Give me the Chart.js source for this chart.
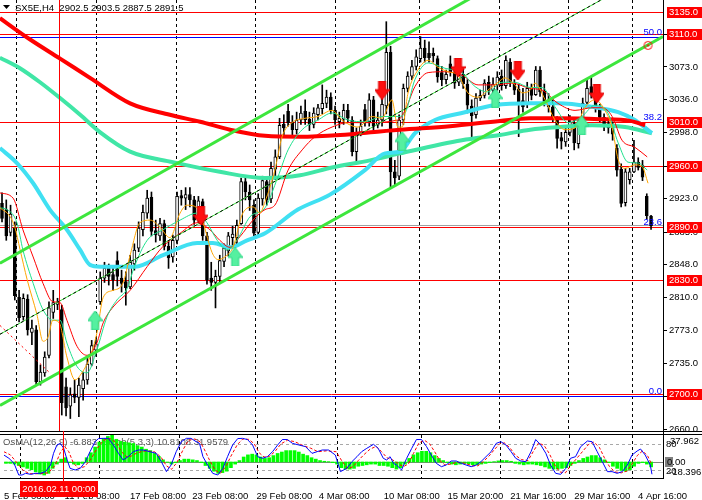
<!DOCTYPE html>
<html>
<head>
<meta charset="utf-8">
<script src="https://cdn.jsdelivr.net/npm/chart.js@4.4.1/dist/chart.umd.min.js"></script>
<style>
  html, body { margin: 0; padding: 0; background: #fff; }
  #wrap { position: relative; width: 702px; height: 500px; overflow: hidden; }
  #main { position: absolute; left: 0; top: 0; }
  #osc { position: absolute; left: 0; top: 431px; }
</style>
</head>
<body>
<div id="wrap">
  <canvas id="main" width="702" height="431"></canvas>
  <canvas id="osc" width="702" height="69"></canvas>
</div>
<script>
// SX5E H4 candles, bar index 0..152
const opens = [
  2917,2910,2884,2889,2810,2788,2808,2770,2773,2714,
  2724,2744,2793,2802,2796,2708,2686,2700,2696,2706,
  2716,2734,2750,2805,2832,2843,2836,2852,2832,2828,
  2822,2848,2866,2887,2906,2924,2886,2880,2894,2868,
  2856,2875,2926,2923,2927,2921,2898,2919,2880,2832,
  2827,2834,2851,2863,2878,2878,2894,2942,2930,2915,
  2884,2922,2942,2922,2956,2970,3007,3022,3009,3001,
  3012,3022,3013,3007,3018,3025,3031,3038,3023,3010,
  3013,3023,3012,2976,2998,3024,3010,3035,3006,3012,
  3028,3089,2953,2948,3012,3048,3062,3073,3082,3094,
  3088,3088,3082,3066,3058,3076,3067,3055,3064,3053,
  3028,3018,3037,3040,3055,3046,3052,3062,3051,3078,
  3054,3047,3034,3030,3048,3041,3069,3045,3033,3027,
  3012,2992,2987,2998,3008,2985,3010,3032,3050,3040,
  3026,3015,3008,3003,2980,2956,2918,2944,2953,2964,
  2960,2925,2902.5
];
const highs = [
  2929,2921,2915,2896,2818,2814,2813,2784,2778,2733,
  2748,2805,2818,2809,2801,2718,2707,2716,2718,2725,
  2741,2761,2764,2839,2850,2848,2846,2862,2841,2839,
  2858,2871,2896,2915,2932,2930,2898,2900,2898,2875,
  2881,2930,2932,2935,2935,2925,2925,2922,2884,2850,
  2841,2858,2871,2884,2891,2898,2946,2947,2938,2921,
  2928,2948,2946,2964,2978,3014,3018,3030,3017,3021,
  3028,3035,3021,3026,3030,3052,3046,3043,3028,3021,
  3030,3030,3016,3003,3012,3030,3042,3039,3021,3037,
  3124,3096,2966,3018,3053,3067,3080,3092,3107,3103,
  3101,3094,3085,3073,3069,3085,3071,3069,3071,3058,
  3035,3042,3046,3058,3062,3060,3067,3069,3085,3082,
  3058,3053,3048,3055,3053,3073,3073,3053,3042,3035,
  3016,2998,3003,3017,3012,3014,3037,3058,3061,3043,
  3030,3019,3014,3010,2984,2962,2957,2957,2989,2969,
  2966,2928,2903.5
];
const lows = [
  2896,2875,2880,2807,2782,2784,2767,2756,2710,2710,
  2720,2741,2786,2796,2676,2675,2672,2690,2674,2693,
  2711,2732,2743,2802,2827,2824,2818,2823,2816,2801,
  2820,2841,2862,2880,2900,2880,2873,2875,2864,2843,
  2850,2871,2915,2910,2913,2893,2895,2875,2825,2818,
  2798,2827,2845,2857,2866,2871,2893,2921,2909,2877,
  2880,2915,2915,2918,2944,2968,2995,3005,2994,2996,
  3007,3007,3000,3003,3012,3019,3026,3019,3007,3003,
  3007,3010,2971,2964,2994,3005,3005,3000,3003,3005,
  3019,2936,2937,2944,3007,3044,3058,3069,3078,3078,
  3078,3078,3055,3051,3053,3062,3048,3051,3048,3020,
  2991,3014,3034,3037,3041,3040,3046,3046,3048,3050,
  3041,2993,3021,3026,3035,3040,3039,3028,3021,3010,
  2980,2979,2982,2994,2978,2980,3007,3030,3037,3021,
  3010,3000,2997,2989,2948,2913,2914,2939,2952,2955,
  2943,2899,2887.5
];
const closes = [
  2900,2880,2905,2812,2787,2809,2773,2775,2714,2725,
  2742,2798,2804,2805,2690,2684,2699,2696,2710,2716,
  2734,2755,2757,2832,2843,2834,2830,2834,2826,2821,
  2850,2864,2889,2907,2923,2885,2881,2894,2868,2855,
  2875,2925,2923,2927,2921,2898,2920,2880,2830,2827,
  2834,2852,2866,2880,2882,2892,2942,2930,2921,2883,
  2923,2943,2921,2957,2970,3006,3003,3009,3001,3012,
  3020,3012,3007,3020,3026,3031,3038,3023,3012,3014,
  3023,3014,2976,2998,3005,3010,3035,3005,3012,3030,
  3089,2953,2946,3012,3048,3062,3073,3084,3094,3083,
  3083,3085,3061,3058,3064,3067,3054,3063,3053,3029,
  3017,3037,3040,3054,3046,3053,3061,3051,3080,3055,
  3046,3030,3027,3048,3040,3069,3044,3032,3027,3015,
  2991,2988,2998,3010,2986,3010,3031,3048,3043,3027,
  3015,3007,3003,2996,2955,2917,2953,2953,2964,2958,
  2947,2903,2891.5
];

// moving averages: [bar index, price]
const maRedThick = [[-0.5,3128],[6.5,3104],[13.6,3082],[20.6,3060],[30,3031],[39.3,3018],[46.4,3010],[53.4,3001],[61.6,2994],[69.8,2993],[79.2,2995],[88.5,2999],[93.2,3001],[104.9,3005],[116.6,3011],[123.7,3014],[130.7,3014],[140,3013],[147.1,3011],[150.6,3006]];
const maMint = [[-0.5,3083],[4.2,3071],[8.9,3055],[13.6,3037],[18.3,3018],[23,2998],[30,2976],[40,2964],[51,2953],[61.6,2946],[69.8,2949],[77.3,2958],[86.2,2966],[93.2,2974],[107.7,2989],[116.6,2995],[123.7,3001],[130.7,3004],[138.2,3006],[145.9,3004],[152.2,2997]];
const maCyan = [[-0.5,2980],[3.5,2963],[7.3,2940],[11.2,2910],[15.2,2887],[18.3,2864],[20.6,2847],[23,2845],[31.2,2845],[37.7,2858],[45.7,2872],[49.4,2872],[53.4,2867],[57.4,2875],[61.6,2883],[69.3,2910],[76.8,2927],[85,2955],[89.7,2974],[93.2,2976],[96.7,2997],[101.4,3012],[107.7,3020],[115.5,3029],[123.7,3031],[130.2,3031],[138.2,3027],[144.3,3021],[148.2,3012],[152.2,2997]];
const maRedThin = [[-0.5,2929],[2.6,2923],[4.9,2887],[7.3,2856],[9.6,2826],[11.9,2805],[13.6,2804],[15.2,2784],[17.6,2754],[19.9,2744],[22.2,2758],[23.7,2781],[26,2799],[30,2818],[34,2845],[37.7,2868],[41.7,2883],[45.7,2895],[48.7,2887],[51,2875],[53.4,2867],[55.7,2879],[58.8,2898],[61.6,2910],[63.9,2915],[67,2955],[70.3,2978],[73.3,2993],[77.3,3004],[81,3009],[85,3009],[92.7,3012],[94.4,3023],[96.7,3050],[99.8,3066],[103.7,3067],[107.7,3063],[111.5,3052],[115.5,3052],[119.4,3054],[123.7,3048],[126.5,3046],[130.2,3031],[134.2,3023],[138.2,3026],[140.5,3026],[142.9,3016],[145.2,2989],[148.2,2981],[151.1,2970]];
const maOrange = [[-0.5,2912],[1.9,2902],[3,2890],[4.2,2865],[5.9,2830],[8.2,2790],[9.6,2760],[10.8,2765],[11.9,2784],[13.4,2781],[15.2,2742],[17.1,2716],[18.7,2724],[20.6,2742],[22.2,2769],[23.7,2810],[26,2818],[28.3,2826],[30,2858],[32.3,2895],[34.7,2898],[37,2890],[39.3,2878],[41.7,2906],[43.3,2915],[45.7,2912],[47.1,2895],[49.2,2861],[50.6,2853],[52.7,2858],[54.1,2867],[56.4,2906],[58.8,2913],[60.4,2906],[61.6,2919],[63.9,2955],[65.6,2993],[67.9,3009],[71,3014],[74,3016],[77.3,3023],[79.6,3012],[83.4,3004],[86.7,3016],[89,3014],[91.3,3035],[92.7,3004],[93.7,3004],[95.1,3043],[97.4,3069],[99.8,3080],[102.1,3072],[104.5,3067],[106.8,3063],[109.1,3043],[111.5,3038],[113.8,3046],[116.2,3055],[117.8,3060],[120.1,3052],[121.8,3043],[123.7,3046],[124.8,3054],[127.2,3035],[129.5,3012],[131.9,3001],[134.2,3003],[136.5,3026],[138.9,3035],[141.2,3023],[142.9,3003],[144.3,2967],[145.9,2957],[148.2,2961],[149.9,2959],[151.3,2940]];
const maGreen = [[-0.5,2912],[1.2,2910],[3.5,2895],[4.9,2864],[7.3,2826],[9.6,2796],[11.9,2784],[13.6,2784],[15.2,2758],[17.6,2731],[19.9,2724],[22.2,2750],[24.6,2788],[26.9,2807],[29.3,2820],[31,2845],[34,2875],[37.7,2887],[41.7,2898],[45.7,2906],[48,2895],[50.4,2875],[52.7,2864],[55,2875],[58.1,2902],[61.6,2912],[64.6,2947],[67,2978],[70.3,3001],[74,3012],[77.3,3020],[81,3012],[85,3010],[89,3016],[92.7,3016],[94.4,3020],[96.7,3058],[99.8,3077],[103.7,3071],[107.7,3066],[110.8,3050],[113.8,3044],[117.1,3055],[120.1,3055],[123.7,3049],[126.5,3049],[129.5,3027],[132.6,3009],[135.8,3016],[138.9,3029],[141.9,3020],[144.3,2986],[146.6,2964],[149,2963],[151.1,2955]];

// trend channel and other drawn objects
const chanUpper = [[-0.47,2849],[154.8,3274]];
const chanLower = [[-0.47,2687],[154.8,3107]];
const chanMid = [[-0.47,2768],[154.8,3188]];
const redDashLeft = [[-0.47,2778],[11.2,2724]];
const redArrows = [[46.6,2903],[89,3046],[106.8,3072],[120.8,3068],[139.3,3042]];
const greenArrows = [[21.8,2784],[54.6,2856],[93.7,2988],[115.5,3037],[135.8,3006]];
const fiboMark = [[151.3,3097]];

const redLevels = [3135, 3110, 3010, 2960, 2890, 2830, 2700];
const fibLevels = [2697.7, 2890.4, 3009.6, 3106];
const fibLabels = ['0.0', '23.6', '38.2', '50.0'];
const bidPrice = 2891.5;
const priceTicks = [3110, 3073, 3036, 2998, 2960, 2923, 2885, 2848, 2810, 2773, 2735, 2698, 2660];

const timeTicks = [-0.47, 13.8, 29.2, 43.9, 59.0, 73.7, 89.0, 104.0, 118.8, 133.9, 148.9];
const timeLabels = ['5 Feb 08:00','11 Feb 08:00','17 Feb 08:00','23 Feb 08:00','29 Feb 08:00','4 Mar 08:00','10 Mar 08:00','15 Mar 20:00','21 Mar 16:00','29 Mar 16:00','4 Apr 16:00'];
const gridX = [3.28, 22.0, 40.75, 59.25, 78.0, 97.7, 116.4, 132.6, 147.5];
const crossX = 13.35;

// oscillator window
const osma = [
  -2,-2,-3,-5,-7,-9,-11,-14,-17,-18.4,
  -16,-9,-3,4,6,-1,-3,-4,-2,6,
  13,21,28,33,36,37.962,32,29,28,27,
  26,23,21,18,16,12,8,3,-0.5,-3,
  -1,2,4,4,3,2,-1,-5,-9,-13,
  -16,-15,-13,-8,-3,2,7,10,11,10,
  7,5,6,9,12,14,16,16,16,14,
  11,9,6,4,2,1,0.5,-1,-3,-8,
  -10,-10,-9,-6,-5,-4,-3,-3,-5,-5,
  -6,-8,-10,-8,-3,5,10,13,15,15,
  13,9,5,2,-1,-3,-4,-3,-2,-3,
  -4,-4,-3,-2,-1,0.5,1.5,2,2,1,
  -2,-3,-4,-3,-3,-4,-5,-7,-9,-10,
  -10,-9,-8,-5,-2,2,5,7,9,9,
  6,3,-1,-6,-9,-12,-13,-11,-6,-2,
  -1,-3,-6.883
];
const stochMain = [[-0.5,54.5],[0.7,47],[1.9,35.6],[3,9.1],[3.8,9.1],[4.6,12.9],[5.8,10.6],[7,12.9],[8.1,12.9],[9.3,16.7],[10.5,31.8],[11.2,58.3],[12,77.3],[12.8,81],[13.6,69.7],[14.4,43.2],[15.1,24.2],[16.3,20.5],[17.5,24.2],[18.7,39.4],[19.8,62.1],[21,84.8],[21.8,91.9],[23,92.4],[24.1,92.4],[25.3,77.3],[26.5,58.3],[27.6,43.2],[28.8,50.8],[30,62.1],[31.2,65.9],[32.3,65.9],[33.9,62.1],[35.4,58.3],[36.6,39.4],[37.8,16.7],[38.9,31.8],[40.1,62.1],[41.3,84.8],[42.5,92.4],[43.6,92.4],[44.8,84.8],[45.6,81],[46.4,50.8],[47.5,31.8],[48.7,12.9],[49.9,9.1],[51.1,24.2],[52.2,50.8],[53.4,77.3],[54.6,91.9],[55.7,92.4],[56.9,89.7],[58.1,77.3],[59.3,50.8],[60.4,47],[61.6,50.8],[62.8,62.1],[64,77.3],[65.1,89.7],[66.3,89.7],[67.5,81],[69,77.3],[70.6,73.5],[72.1,58.3],[73.3,62.1],[74.5,65.9],[76,65.9],[77.6,54.5],[78.8,16.7],[80.3,24.2],[81.5,39.4],[82.7,50.8],[83.8,62.1],[85,69.7],[86.6,78.8],[87.7,69.7],[88.9,47],[89.7,43.2],[90.5,50.8],[91.3,35.6],[92,31.8],[93.2,20.5],[94.4,47],[95.6,69.7],[96.7,89.7],[97.9,89.7],[99.1,73.5],[100.2,54.5],[101.4,35.6],[102.6,28],[103.7,31.8],[104.9,40.9],[106.1,40.9],[107.3,35.6],[108.4,31.8],[109.6,28],[110.8,31.8],[111.9,39.4],[113.1,50.8],[114.3,62.1],[115.5,81],[116.6,84.8],[117.8,77.3],[119,62.1],[120.1,47],[121.3,40.9],[122.5,39.4],[123.7,62.1],[124.8,89.7],[126,77.3],[127.2,58.3],[128.3,31.8],[129.5,12.9],[130.7,10.6],[131.9,24.2],[133,47],[134.2,50.8],[135.4,73.5],[137,86.4],[138.1,84.8],[139.3,62.1],[140.5,39.4],[141.7,16.7],[142.8,16.7],[144,12.9],[145.2,16.7],[146.4,31.8],[147.5,54.5],[148.7,63.6],[149.5,68.2],[150.6,54.5],[151.8,31.8],[152.2,10.8]];
const stochSignal = [[-0.5,62],[1,55],[2.5,38],[4,20],[5.5,12],[8,12],[10,14],[11.5,30],[12.8,60],[13.8,74],[14.8,62],[15.8,38],[17,24],[18.5,28],[20,45],[21.5,70],[23,88],[24.5,92],[26,82],[27.2,62],[28.5,50],[29.5,52],[31,60],[33,64],[35,62],[36.5,50],[37.8,30],[39,22],[40.3,38],[41.8,68],[43,88],[44.5,91],[45.8,84],[46.8,66],[48,42],[49.3,20],[50.5,13],[51.8,28],[53,52],[54.5,78],[55.8,91],[57.2,90],[58.5,80],[59.6,60],[60.8,50],[62.2,52],[63.5,64],[64.8,80],[66.3,88],[68,85],[70,76],[71.8,70],[73.5,62],[75.5,64],[77.8,62],[79.2,40],[80.5,24],[81.8,28],[83,42],[84.3,55],[85.8,68],[87.2,74],[88.5,62],[89.8,48],[91,44],[92.3,36],[93.6,28],[94.8,34],[96,58],[97.3,82],[98.6,88],[99.8,80],[101,62],[102.2,42],[103.4,32],[104.8,34],[106.3,38],[108,36],[109.8,30],[111.2,30],[112.5,40],[113.8,52],[115,66],[116.3,80],[117.5,82],[118.8,70],[120,54],[121.5,44],[123,42],[124.2,62],[125.5,82],[126.8,76],[128,58],[129.3,32],[130.5,16],[131.8,14],[133,30],[134.4,46],[135.8,62],[137.2,78],[138.5,84],[139.8,72],[141,48],[142.2,28],[143.5,16],[145,14],[146.3,18],[147.5,34],[148.8,54],[150,64],[151.2,52],[152.2,32]];
const stochLevels = [80, 20];

const X_MIN = -0.47, X_MAX = 154.8;
const FONT = "9.5px 'Liberation Sans', Arial, sans-serif";
Chart.defaults.font.family = "'Liberation Sans', Arial, sans-serif";
Chart.defaults.font.size = 9.5;
Chart.defaults.color = '#000';

function px(v) { return Math.round(v) + 0.5; }
function hline(ctx, x1, x2, y) { ctx.beginPath(); ctx.moveTo(x1, y); ctx.lineTo(x2, y); ctx.stroke(); }
function vline(ctx, x, y1, y2) { ctx.beginPath(); ctx.moveTo(x, y1); ctx.lineTo(x, y2); ctx.stroke(); }

function makeArrow(fill, edge, up) {
  const c = document.createElement('canvas');
  c.width = 15; c.height = 19;
  const g = c.getContext('2d');
  if (up) { g.translate(0, 19); g.scale(1, -1); }
  g.beginPath();
  g.moveTo(4, 0); g.lineTo(11, 0); g.lineTo(11, 9); g.lineTo(15, 9);
  g.lineTo(7.5, 19); g.lineTo(0, 9); g.lineTo(4, 9); g.closePath();
  g.fillStyle = fill; g.fill();
  g.strokeStyle = edge; g.lineWidth = 1; g.stroke();
  return c;
}
function makeRing() {
  const c = document.createElement('canvas');
  c.width = 11; c.height = 11;
  const g = c.getContext('2d');
  g.strokeStyle = '#ff0000'; g.lineWidth = 1;
  g.beginPath(); g.arc(5.5, 5.5, 4, 0, Math.PI * 2); g.stroke();
  g.fillStyle = '#ff0000'; g.fillRect(4.5, 4.5, 2, 2);
  return c;
}

const wickData = lows.map((l, i) => ({ x: i, y: [l, highs[i]] }));
const bodyData = opens.map((o, i) => ({ x: i, y: [o, closes[i]] }));
const bodyColors = opens.map((o, i) => closes[i] >= o ? '#ffffff' : '#000000');

function maLine(data, color, width, order) {
  return { type: 'line', data, borderColor: color, borderWidth: width, pointRadius: 0,
    fill: false, tension: 0.3, cubicInterpolationMode: 'monotone', order };
}
function straight(data, color, width, order, dash) {
  return { type: 'line', data, borderColor: color, borderWidth: width, pointRadius: 0,
    fill: false, tension: 0, borderDash: dash || [], order };
}

const mainDecor = {
  id: 'mainDecor',
  beforeDatasetsDraw(chart) {
    const { ctx, chartArea: a, scales: { x, y } } = chart;
    ctx.save();
    ctx.lineWidth = 1;
    ctx.strokeStyle = '#000';
    ctx.setLineDash([3, 3]);
    gridX.forEach(v => vline(ctx, px(x.getPixelForValue(v)), a.top, a.bottom));
    ctx.setLineDash([]);
    ctx.strokeStyle = '#0000ff';
    fibLevels.forEach(v => hline(ctx, a.left, a.right, px(y.getPixelForValue(v))));
    ctx.strokeStyle = '#a0a0a0';
    hline(ctx, a.left, a.right, px(y.getPixelForValue(bidPrice)) - 1);
    ctx.strokeStyle = '#ff0000';
    redLevels.forEach(v => hline(ctx, a.left, a.right, px(y.getPixelForValue(v))));
    ctx.restore();
  },
  afterDraw(chart) {
    const { ctx, chartArea: a, scales: { x, y } } = chart;
    ctx.save();
    ctx.lineWidth = 1;
    // crosshair
    ctx.strokeStyle = '#ff0000';
    vline(ctx, px(x.getPixelForValue(crossX)), 0, chart.height);
    // right border of price window
    ctx.strokeStyle = '#000';
    vline(ctx, a.right + 0.5, 0, chart.height);
    // fibo labels
    ctx.font = FONT;
    ctx.fillStyle = '#0000ff';
    ctx.textAlign = 'right';
    ctx.textBaseline = 'alphabetic';
    fibLevels.forEach((v, i) => ctx.fillText(fibLabels[i], a.right - 1, y.getPixelForValue(v) - 2));
    // price scale
    ctx.textAlign = 'left';
    ctx.textBaseline = 'middle';
    ctx.fillStyle = '#000';
    priceTicks.forEach(v => {
      const yy = y.getPixelForValue(v);
      hline(ctx, a.right, a.right + 4, px(yy));
      ctx.fillText(v.toFixed(1), 669, yy + 0.5);
    });
    redLevels.forEach(v => {
      const yy = y.getPixelForValue(v);
      ctx.fillStyle = '#ff0000';
      ctx.fillRect(667, Math.round(yy) - 5, 35, 11);
      ctx.fillStyle = '#ffffff';
      ctx.fillText(v.toFixed(1), 669, yy + 0.5);
    });
    // header
    ctx.fillStyle = '#000';
    ctx.beginPath(); ctx.moveTo(3, 5); ctx.lineTo(10, 5); ctx.lineTo(6.5, 9); ctx.closePath(); ctx.fill();
    ctx.fillText('SX5E,H4  2902.5 2903.5 2887.5 2891.5', 15, 8);
    ctx.restore();
  }
};

const oscDecor = {
  id: 'oscDecor',
  beforeDatasetsDraw(chart) {
    const { ctx, chartArea: a, scales } = chart;
    const x = scales.x, ys = scales.y, y2 = scales.y2;
    ctx.save();
    ctx.lineWidth = 1;
    ctx.strokeStyle = '#000';
    ctx.setLineDash([3, 3]);
    gridX.forEach(v => vline(ctx, px(x.getPixelForValue(v)), a.top, a.bottom));
    ctx.strokeStyle = '#a8a8a8';
    stochLevels.forEach(v => hline(ctx, a.left, a.right, px(ys.getPixelForValue(v))));
    ctx.setLineDash([]);
    ctx.strokeStyle = '#808080';
    hline(ctx, a.left, a.right, px(y2.getPixelForValue(0)));
    ctx.font = FONT;
    ctx.fillStyle = '#555';
    ctx.textAlign = 'left';
    ctx.textBaseline = 'middle';
    ctx.fillText('OsMA(12,26,9) -6.883  Stoch(5,3,3) 10.8108 31.9579', 3, a.top + 7.5);
    ctx.restore();
  },
  afterDraw(chart) {
    const { ctx, chartArea: a, scales } = chart;
    const x = scales.x, ys = scales.y, y2 = scales.y2;
    ctx.save();
    ctx.lineWidth = 1;
    ctx.strokeStyle = '#000';
    hline(ctx, 0, 702, 0.5);
    hline(ctx, 0, 702, 3.5);
    hline(ctx, 0, a.right + 1, px(a.bottom) - 1);
    vline(ctx, a.right + 0.5, 0, a.bottom);
    ctx.strokeStyle = '#ff0000';
    const cx = px(x.getPixelForValue(crossX));
    vline(ctx, cx, 0, 50);
    // scale labels
    ctx.font = FONT;
    ctx.textAlign = 'left';
    ctx.textBaseline = 'middle';
    ctx.fillStyle = '#000';
    ctx.fillText('80', 666, ys.getPixelForValue(80) + 1);
    ctx.fillText('37.962', 670, a.top + 6);
    ctx.fillText('20', 666, ys.getPixelForValue(20) + 1);
    ctx.fillText('-18.396', 669, ys.getPixelForValue(20) + 2);
    const zy = y2.getPixelForValue(0);
    ctx.fillStyle = '#7f7f7f';
    ctx.fillRect(665, Math.round(zy) - 5, 8, 10);
    ctx.fillStyle = '#000';
    ctx.fillText('0.00', 667, zy + 0.5);
    // date box under crosshair
    ctx.fillStyle = '#ff0000';
    ctx.fillRect(20, 50, 78, 16);
    ctx.fillStyle = '#ffffff';
    ctx.textAlign = 'center';
    ctx.fillText('2016.02.11 00:00', 59, 58.5);
    ctx.restore();
  }
};

const redArrowImg = makeArrow('#ff1010', '#e00000', false);
const greenArrowImg = makeArrow('#55f0a0', '#2ad884', true);
const ringImg = makeRing();

new Chart(document.getElementById('main'), {
  type: 'bar',
  data: {
    datasets: [
      { type: 'scatter', data: redArrows, pointStyle: redArrowImg, pointRadius: 9, order: 0 },
      { type: 'scatter', data: greenArrows, pointStyle: greenArrowImg, pointRadius: 9, order: 0 },
      { type: 'scatter', data: fiboMark, pointStyle: ringImg, pointRadius: 5, order: 0 },
      straight(chanUpper, '#3de63d', 3, 1),
      straight(chanLower, '#3de63d', 3, 1),
      straight(chanMid, '#000000', 1, 1, [3, 3]),
      straight(chanMid, '#3de63d', 1, 2),
      straight(redDashLeft, '#ff0000', 1, 2, [2, 3]),
      maLine(maOrange, '#ffa500', 1, 2),
      maLine(maGreen, '#1ee08c', 1, 2),
      maLine(maRedThin, '#ff0000', 1, 2),
      maLine(maRedThick, '#ff0000', 4, 3),
      maLine(maCyan, '#40e0f2', 4, 3),
      maLine(maMint, '#40e6a6', 4, 3),
      { type: 'bar', data: bodyData, backgroundColor: bodyColors, borderColor: '#000', borderWidth: 1,
        borderSkipped: false, barThickness: 3, minBarLength: 1, grouped: false, order: 8 },
      { type: 'bar', data: wickData, backgroundColor: '#000', barThickness: 1, grouped: false, order: 9 }
    ]
  },
  options: {
    responsive: false,
    animation: false,
    events: [],
    layout: { autoPadding: false, padding: { left: 0, top: 0, bottom: 0, right: 39 } },
    plugins: { legend: { display: false }, tooltip: { enabled: false } },
    scales: {
      x: { type: 'linear', min: X_MIN, max: X_MAX, offset: false, display: false },
      y: { type: 'linear', min: 2657.8, max: 3148.7, display: false }
    }
  },
  plugins: [mainDecor]
});

new Chart(document.getElementById('osc'), {
  type: 'bar',
  data: {
    datasets: [
      { type: 'line', data: stochMain, borderColor: '#0000ff', borderWidth: 1, pointRadius: 0, tension: 0, yAxisID: 'y', order: 0 },
      { type: 'line', data: stochSignal, borderColor: '#ff0000', borderWidth: 1, borderDash: [3, 2], pointRadius: 0, tension: 0, yAxisID: 'y', order: 1 },
      { type: 'bar', data: osma.map((v, i) => ({ x: i, y: v })), backgroundColor: '#00ff00', barThickness: 3, grouped: false, yAxisID: 'y2', order: 2 }
    ]
  },
  options: {
    responsive: false,
    animation: false,
    events: [],
    layout: { autoPadding: false, padding: { left: 0, top: 4, bottom: 0, right: 39 } },
    plugins: { legend: { display: false }, tooltip: { enabled: false } },
    scales: {
      x: {
        type: 'linear', min: X_MIN, max: X_MAX, offset: false,
        grid: { display: false }, border: { display: false },
        afterBuildTicks: s => { s.ticks = timeTicks.map(v => ({ value: v })); },
        afterFit: s => { s.height = 21; },
        ticks: { autoSkip: false, maxRotation: 0, minRotation: 0, align: 'start', padding: 4,
          color: '#000', font: { size: 9.5 },
          callback: (v, i) => timeLabels[i] }
      },
      y: { type: 'linear', min: 0, max: 100, display: false },
      y2: { type: 'linear', min: -24, max: 38, display: false }
    }
  },
  plugins: [oscDecor]
});
</script>
</body>
</html>
